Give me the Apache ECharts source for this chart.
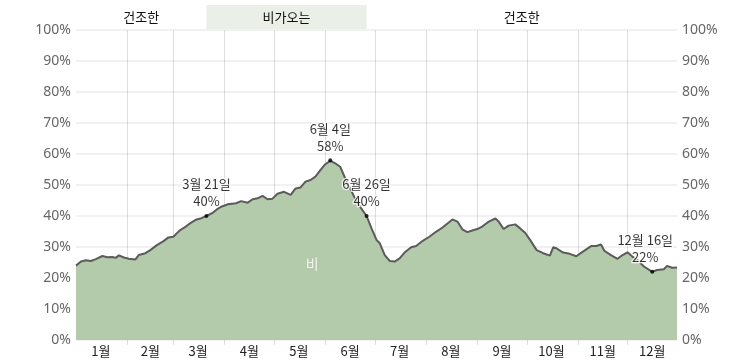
<!DOCTYPE html>
<html><head><meta charset="utf-8">
<script src="https://cdn.jsdelivr.net/npm/echarts@6/dist/echarts.min.js"></script>
<style>html,body{margin:0;padding:0;background:#fff}#c{width:753px;height:362px}</style>
</head><body><div id="c"></div>
<script>
const monthLabels = ['1월','2월','3월','4월','5월','6월','7월','8월','9월','10월','11월','12월'];
const monthDays = [31,28,31,30,31,30,31,31,30,31,30,31];

const sampleDays = [0,3,6,9,12,16,19,22,24,26,29,32,36,38,42,45,49,53,56,59,61,63,66,69,73,76,79,83,86,88,92,97,100,104,107,110,113,116,119,122,126,130,133,136,139,142,145,148,151,154,157,160,163,166,169,172,176,179,182,184,187,190,193,196,199,203,206,210,214,218,222,225,228,231,234,237,240,243,246,250,254,256,259,262,266,269,272,275,279,283,287,289,291,295,299,303,307,312,315,318,320,324,328,331,334,337,340,344,349,352,356,358,361,364];
const sampleValues = [24.0,25.3,25.7,25.5,26.1,27.1,26.7,26.8,26.5,27.3,26.6,26.2,26.0,27.4,28.0,29.0,30.6,31.9,33.1,33.3,34.4,35.4,36.4,37.6,38.9,39.3,40.0,41.1,42.4,43.0,43.8,44.1,44.8,44.3,45.4,45.7,46.5,45.4,45.6,47.2,47.8,46.8,48.9,49.2,51.1,51.6,52.7,54.8,56.7,57.8,57.0,55.9,52.2,48.9,45.7,43.0,40.0,36.0,32.3,31.2,27.4,25.5,25.3,26.3,28.2,29.9,30.3,32.0,33.3,34.9,36.3,37.6,38.9,38.2,35.7,34.8,35.3,35.8,36.6,38.2,39.2,38.2,35.8,36.9,37.3,36.0,34.6,32.3,29.0,28.0,27.2,29.9,29.6,28.2,27.8,27.0,28.5,30.3,30.3,30.8,28.8,27.4,26.2,27.4,28.3,26.9,25.8,23.7,22.0,22.6,22.8,23.9,23.3,23.4];

const annotDays = [79,154,176,349];
const annotValues = [40,58,40,22];
const annotDates = ['3월 21일','6월 4일','6월 26일','12월 16일'];

const seasonNames = ['건조한','비가오는','건조한'];
const seasonStarts = [0,79,176];
const seasonEnds = [79,176,364];
const seasonWet = [false,true,false];

const areaLabel = '비';
const areaLabelDay = 143;
const areaLabelValue = 24.5;

// build day categories and month boundaries
const categories = [];
const monthStart = [];
const monthMid = {};
let idx = 0;
monthDays.forEach((d, m) => {
  monthStart.push(idx);
  monthMid[idx + Math.floor(d / 2)] = m;
  for (let i = 1; i <= d; i++) categories.push(monthLabels[m] + ' ' + i + '일');
  idx += d;
});
const isBoundary = i => i > 0 && monthStart.indexOf(i) >= 0;

const cjk = "'Noto Sans CJK KR', 'Noto Sans', sans-serif";
const lat = "'Noto Sans', 'Noto Sans CJK KR', sans-serif";

const chart = echarts.init(document.getElementById('c'), null, {renderer: 'canvas'});
chart.setOption({
  animation: false,
  grid: [
    {left: 76, right: 76, top: 30, bottom: 22},
    {left: 76, right: 76, top: 5, height: 24}
  ],
  xAxis: [
    {
      type: 'category', gridIndex: 0, data: categories, boundaryGap: false, z: 3,
      axisLine: {show: false},
      axisTick: {show: true, interval: isBoundary, length: 5, lineStyle: {color: 'rgba(0,0,0,0.13)', width: 1}},
      splitLine: {show: true, interval: isBoundary, lineStyle: {color: 'rgba(0,0,0,0.13)', width: 1}},
      axisLabel: {
        interval: i => monthMid[i] !== undefined,
        formatter: (v, i) => monthLabels[monthMid[i]],
        color: '#222', fontSize: 13, fontFamily: cjk, margin: 5
      }
    },
    {type: 'value', gridIndex: 1, min: 0, max: 364, show: false}
  ],
  yAxis: [
    {
      type: 'value', gridIndex: 0, min: 0, max: 100, interval: 10, position: 'left',
      axisLine: {show: false}, axisTick: {show: false},
      axisLabel: {formatter: '{value}%', color: '#666', fontSize: 14, fontFamily: lat, margin: 5},
      splitLine: {show: true, lineStyle: {color: '#ececec', width: 1.5}}
    },
    {
      type: 'value', gridIndex: 0, min: 0, max: 100, interval: 10, position: 'right',
      axisLine: {show: false}, axisTick: {show: false},
      axisLabel: {formatter: '{value}%', color: '#666', fontSize: 14, fontFamily: lat, margin: 5},
      splitLine: {show: false}
    },
    {type: 'value', gridIndex: 2 - 1, min: 0, max: 1, show: false}
  ],
  series: [
    {
      type: 'line', xAxisIndex: 0, yAxisIndex: 0,
      data: sampleDays.map((d, i) => [d, sampleValues[i]]),
      symbol: 'none', smooth: false,
      lineStyle: {color: '#5b5b5b', width: 2},
      areaStyle: {color: '#b3cbaa', opacity: 1}
    },
    {
      type: 'scatter', xAxisIndex: 0, yAxisIndex: 0, z: 5,
      data: annotDays.map((d, i) => ({
        value: [d, annotValues[i]],
        label: {offset: i === 3 ? [-7, 0] : [0, 0]}
      })),
      symbol: 'circle', symbolSize: 4, itemStyle: {color: '#000'},
      label: {
        show: true, position: 'top', distance: 4,
        formatter: p => annotDates[p.dataIndex] + '\n' + annotValues[p.dataIndex] + '%',
        color: '#000', fontSize: 13, lineHeight: 17, fontFamily: cjk,
        textBorderColor: '#fff', textBorderWidth: 2.5, align: 'center'
      }
    },
    {
      type: 'scatter', xAxisIndex: 0, yAxisIndex: 0, z: 5,
      data: [[areaLabelDay, areaLabelValue]], symbolSize: 0,
      label: {show: true, position: 'inside', formatter: areaLabel, color: '#fff', fontSize: 14, fontFamily: cjk}
    },
    {
      type: 'line', xAxisIndex: 1, yAxisIndex: 2, data: [], silent: true,
      markArea: {
        silent: true,
        data: seasonNames.map((n, i) => [
          {name: n, xAxis: seasonStarts[i], itemStyle: {color: seasonWet[i] ? '#eaefe7' : 'rgba(0,0,0,0)'}},
          {xAxis: seasonEnds[i]}
        ]),
        label: {show: true, position: 'inside', color: '#111', fontSize: 13, fontFamily: cjk}
      }
    }
  ]
});
</script>
</body></html>
